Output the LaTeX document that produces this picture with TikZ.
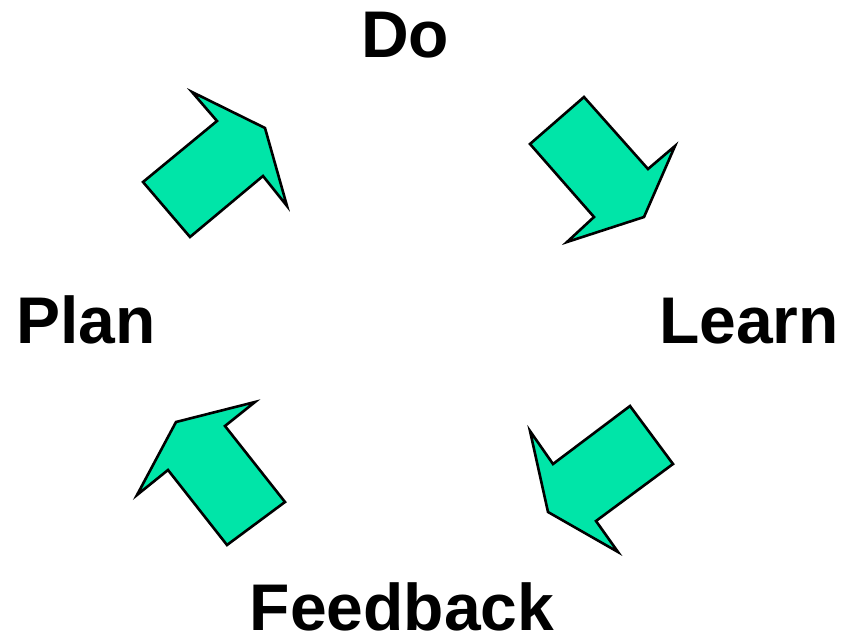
\documentclass[tikz,border=0pt]{standalone}
\usepackage{fontspec}
\setmainfont{Liberation Sans}
\usepackage{tikz}
\usepackage{xcolor}

\begin{document}
\begin{tikzpicture}[x=1pt,y=-1pt,
  stepname/.style={font=\fontsize{66}{79}\selectfont\bfseries,inner sep=0pt,anchor=base},
  cyclearrow/.style={draw=black,line width=2.6pt,line join=miter,fill=mint}]
\definecolor{mint}{HTML}{00E5A8}
\useasboundingbox (0,0) rectangle (843,639);
% stages
\node[stepname] (do) at (405,58) {Do};
\node[stepname] (learn) at (749,343) {Learn};
\node[stepname] (feedback) at (402,630) {Feedback};
\node[stepname] (plan) at (86,343) {Plan};
% arrows between the stages
\draw[cyclearrow] (143,182) -- (190,237) -- (263,176) -- (287,206) -- (265,128) -- (192,92) -- (217,121) -- cycle;
\draw[cyclearrow] (530,144) -- (584,97) -- (648,169) -- (675,146) -- (644,217) -- (567,242) -- (594,217) -- cycle;
\draw[cyclearrow] (630,406) -- (673,464) -- (596,521) -- (618,552) -- (548,512) -- (530,431) -- (553,464) -- cycle;
\draw[cyclearrow] (285,502) -- (227,545) -- (168,470) -- (137,495) -- (176,422) -- (255,402) -- (225,426) -- cycle;
\end{tikzpicture}
\end{document}
